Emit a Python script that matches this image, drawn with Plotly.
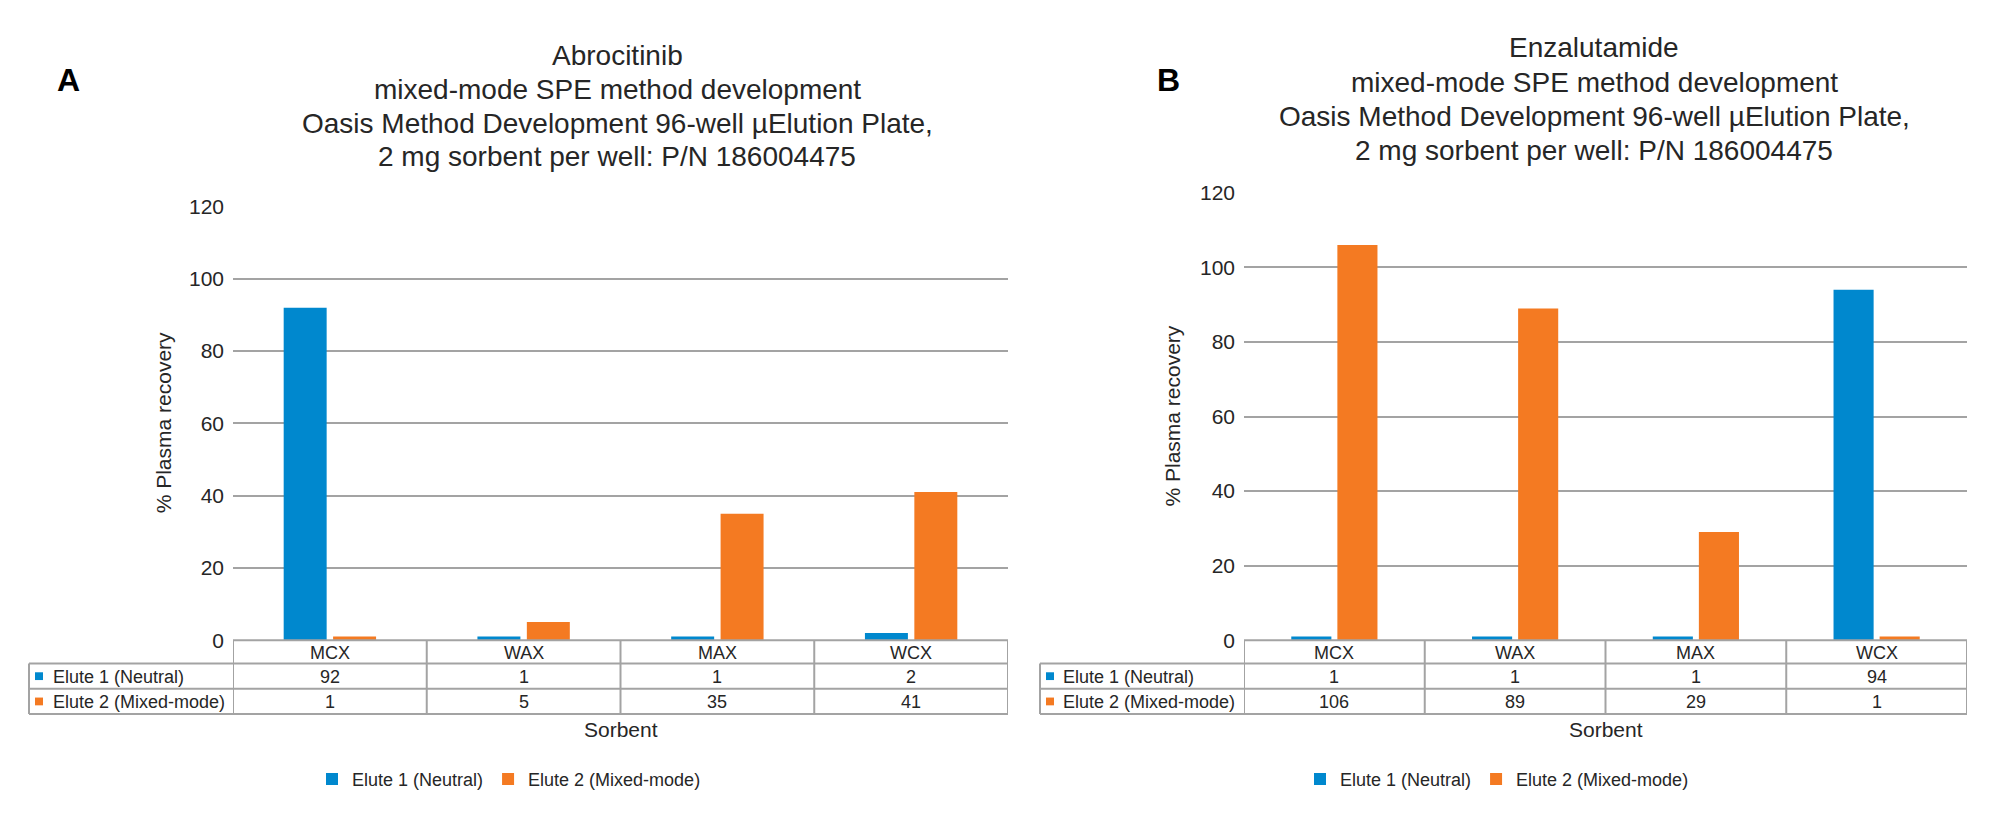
import plotly.graph_objects as go

# ---------------- data ----------------
categories = ["MCX", "WAX", "MAX", "WCX"]
series_names = ["Elute 1 (Neutral)", "Elute 2 (Mixed-mode)"]
abro_elute1 = [92, 1, 1, 2]
abro_elute2 = [1, 5, 35, 41]
enza_elute1 = [1, 1, 1, 94]
enza_elute2 = [106, 89, 29, 1]
title_a = ["Abrocitinib", "mixed-mode SPE method development",
           "Oasis Method Development 96-well µElution Plate,",
           "2 mg sorbent per well: P/N 186004475"]
title_b = ["Enzalutamide", "mixed-mode SPE method development",
           "Oasis Method Development 96-well µElution Plate,",
           "2 mg sorbent per well: P/N 186004475"]
y_ticks = [0, 20, 40, 60, 80, 100, 120]
y_title = "% Plasma recovery"
x_title = "Sorbent"

# ---------------- style ----------------
W, H = 2000, 834
FONT = "Arial, Liberation Sans, sans-serif"
TXT = "#262626"
BLUE = "#0088CE"
ORANGE = "#F47A22"
GRID = "#A3A3A3"
colors = [BLUE, ORANGE]


def px(x):
    return x / W


def py(y):
    return 1 - y / H


panels = [
    dict(xa="x", ya="y", legend="legend", data=[abro_elute1, abro_elute2],
         title=title_a, letter="A", letter_xy=(68, 70),
         title_cx=617, title_ys=[45, 80, 114.5, 149],
         plot_x=(233, 1008), plot_top=200, table_left=29,
         swatch_x=35, label_x=51, ytitle_x=163, legend_cx=509),
    dict(xa="x2", ya="y2", legend="legend2", data=[enza_elute1, enza_elute2],
         title=title_b, letter="B", letter_xy=(1168, 70),
         title_cx=1594, title_ys=[37, 72, 107, 142],
         plot_x=(1244, 1967), plot_top=186, table_left=1040,
         swatch_x=1046, label_x=1061, ytitle_x=1173, legend_cx=1497),
]

ZERO_Y = 646
ROWS = [646, 670, 696, 722]

fig = go.Figure()
shapes = []
annotations = []

for p in panels:
    for i, (name, vals) in enumerate(zip(series_names, p["data"])):
        fig.add_trace(go.Bar(
            x=categories, y=vals, name=name, xaxis=p["xa"], yaxis=p["ya"],
            marker=dict(color=colors[i], line=dict(width=0)),
            legend=p["legend"], showlegend=True, hoverinfo="x+y+name"))

    xref = p["xa"]
    # table horizontal lines
    for k, ry in enumerate(ROWS):
        x0 = p["plot_x"][0] if k == 0 else p["table_left"]
        shapes.append(dict(type="line", xref="paper", yref="paper",
                           x0=px(x0), x1=px(p["plot_x"][1]), y0=py(ry), y1=py(ry),
                           line=dict(color=GRID, width=2)))
    # table vertical lines (category boundaries)
    for b in range(len(categories) + 1):
        shapes.append(dict(type="line", xref=xref, yref="paper",
                           x0=b - 0.5, x1=b - 0.5, y0=py(ROWS[0]), y1=py(ROWS[-1]),
                           line=dict(color=GRID, width=2)))
    shapes.append(dict(type="line", xref="paper", yref="paper",
                       x0=px(p["table_left"]), x1=px(p["table_left"]),
                       y0=py(ROWS[1]), y1=py(ROWS[-1]),
                       line=dict(color=GRID, width=2)))
    # category labels
    for i, c in enumerate(categories):
        annotations.append(dict(xref=xref, yref="paper", x=i, y=py((ROWS[0] + ROWS[1]) / 2 + 1),
                                text=c, showarrow=False, xanchor="center", yanchor="middle",
                                font=dict(family=FONT, size=18, color=TXT)))
    # data rows
    for r, (name, vals) in enumerate(zip(series_names, p["data"])):
        yc = (ROWS[r + 1] + ROWS[r + 2]) / 2 + 1
        for i, v in enumerate(vals):
            annotations.append(dict(xref=xref, yref="paper", x=i, y=py(yc),
                                    text=str(v), showarrow=False, xanchor="center",
                                    yanchor="middle",
                                    font=dict(family=FONT, size=18, color=TXT)))
        shapes.append(dict(type="rect", xref="paper", yref="paper",
                           x0=px(p["swatch_x"]), x1=px(p["swatch_x"] + 8),
                           y0=py(yc - 5), y1=py(yc + 3),
                           fillcolor=colors[r], line=dict(width=0)))
        annotations.append(dict(xref="paper", yref="paper", x=px(p["label_x"]), y=py(yc),
                                text=name, showarrow=False, xanchor="left", yanchor="middle",
                                font=dict(family=FONT, size=18, color=TXT)))
    # x title
    cx = (p["plot_x"][0] + p["plot_x"][1]) / 2
    annotations.append(dict(xref="paper", yref="paper", x=px(cx), y=py(738),
                            text=x_title, showarrow=False, xanchor="center", yanchor="middle",
                            font=dict(family=FONT, size=21, color=TXT)))
    # y title
    annotations.append(dict(xref="paper", yref="paper", x=px(p["ytitle_x"]),
                            y=py((p["plot_top"] + ZERO_Y) / 2),
                            text=y_title, textangle=-90, showarrow=False,
                            xanchor="center", yanchor="middle",
                            font=dict(family=FONT, size=21, color=TXT)))
    # chart titles
    for line, ly in zip(p["title"], p["title_ys"]):
        annotations.append(dict(xref="paper", yref="paper", x=px(p["title_cx"]), y=py(ly),
                                text=line, showarrow=False, xanchor="center", yanchor="middle",
                                font=dict(family=FONT, size=28, color=TXT)))
    # panel letter
    annotations.append(dict(xref="paper", yref="paper", x=px(p["letter_xy"][0]),
                            y=py(p["letter_xy"][1]), text="<b>%s</b>" % p["letter"],
                            showarrow=False, xanchor="center", yanchor="middle",
                            font=dict(family=FONT, size=32, color="#000000")))

axis_common_x = dict(range=[-0.5, len(categories) - 0.5], showticklabels=False,
                     showgrid=False, zeroline=False, showline=False, ticks="",
                     fixedrange=True)
axis_common_y = dict(range=[0, 120], tickvals=y_ticks, showgrid=True, gridcolor=GRID,
                     gridwidth=2, zeroline=False, showline=False, ticks="",
                     ticklabelstandoff=8,
                     tickfont=dict(family=FONT, size=21, color=TXT), fixedrange=True)

legend_common = dict(orientation="h", xanchor="center", yanchor="middle",
                     y=py(789), bgcolor="rgba(0,0,0,0)", itemwidth=30,
                     font=dict(family=FONT, size=18, color=TXT), traceorder="normal")

fig.update_layout(
    width=W, height=H,
    margin=dict(l=0, r=0, t=0, b=0),
    paper_bgcolor="white", plot_bgcolor="white",
    font=dict(family=FONT, color=TXT),
    barmode="group", bargap=0.49, bargroupgap=0.13,
    xaxis=dict(domain=[px(panels[0]["plot_x"][0]), px(panels[0]["plot_x"][1])],
               anchor="y", **axis_common_x),
    yaxis=dict(domain=[py(ZERO_Y), py(panels[0]["plot_top"])], anchor="x", **axis_common_y),
    xaxis2=dict(domain=[px(panels[1]["plot_x"][0]), px(panels[1]["plot_x"][1])],
                anchor="y2", **axis_common_x),
    yaxis2=dict(domain=[py(ZERO_Y), py(panels[1]["plot_top"])], anchor="x2", **axis_common_y),
    legend=dict(x=px(panels[0]["legend_cx"]), **legend_common),
    legend2=dict(x=px(panels[1]["legend_cx"]), **legend_common),
    shapes=shapes,
    annotations=annotations,
)

fig.write_html("out.html", config={"displayModeBar": False},
               post_script="document.body.style.margin='0';document.body.style.overflow='hidden';")
